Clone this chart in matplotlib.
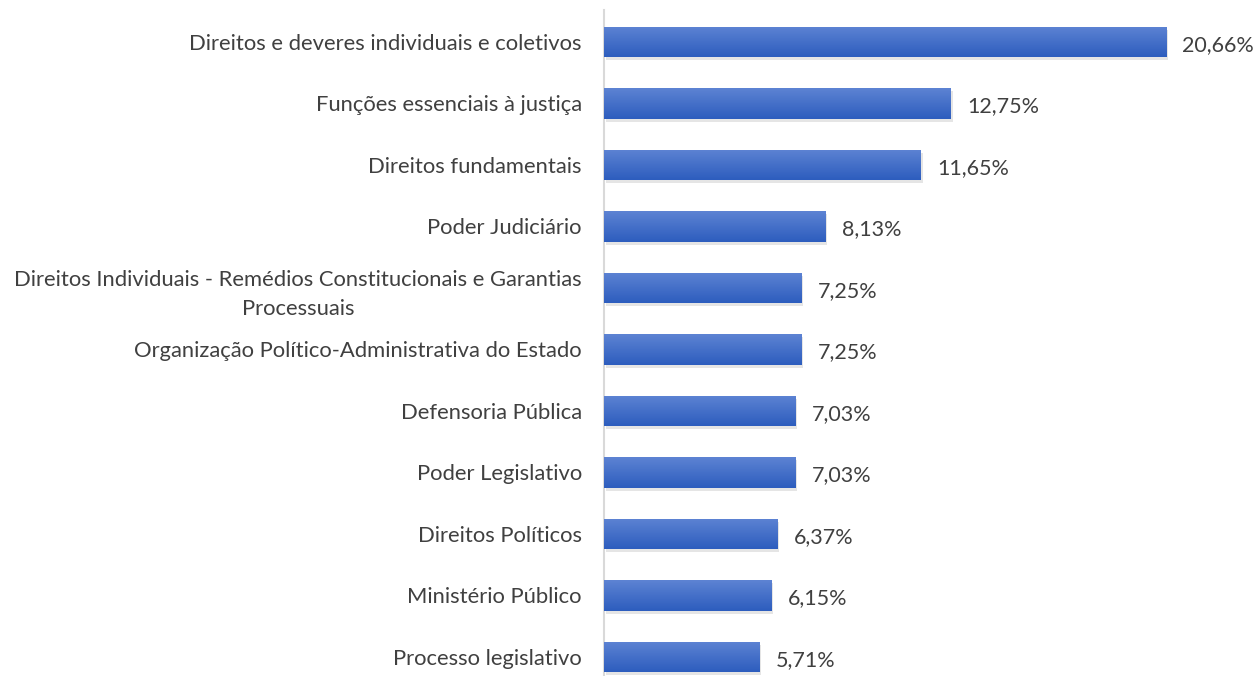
import matplotlib.pyplot as plt
import numpy as np
from matplotlib.colors import LinearSegmentedColormap

categories = [
    "Direitos e deveres individuais e coletivos",
    "Funções essenciais à justiça",
    "Direitos fundamentais",
    "Poder Judiciário",
    "Direitos Individuais - Remédios Constitucionais e Garantias\nProcessuais",
    "Organização Político-Administrativa do Estado",
    "Defensoria Pública",
    "Poder Legislativo",
    "Direitos Políticos",
    "Ministério Público",
    "Processo legislativo",
]
values = [20.66, 12.75, 11.65, 8.13, 7.25, 7.25, 7.03, 7.03, 6.37, 6.15, 5.71]
labels = ["20,66%", "12,75%", "11,65%", "8,13%", "7,25%", "7,25%",
          "7,03%", "7,03%", "6,37%", "6,15%", "5,71%"]

plt.rcParams['font.family'] = ['Lato', 'DejaVu Sans']
text_color = '#404040'

fig = plt.figure(figsize=(12.57, 6.76), dpi=100)
ax = fig.add_axes([604 / 1257, 0, 1 - 604 / 1257, 666 / 676])

y = np.arange(len(values))
bh = 0.49

# soft shadow under bars
ax.barh(y + 0.05, values, height=bh, left=0.06, color='#000000', alpha=0.10, zorder=1)
bars = ax.barh(y, values, height=bh, color='#4472C4', zorder=2)

cmap = LinearSegmentedColormap.from_list('grad', ['#5d83d3', '#2d5dbe'])
grad = np.linspace(0, 1, 64).reshape(-1, 1)
for b in bars:
    x0, y0 = b.get_x(), b.get_y()
    w, h = b.get_width(), b.get_height()
    im = ax.imshow(grad, cmap=cmap, aspect='auto', origin='upper',
                   extent=[x0, x0 + w, y0 + h, y0], zorder=3)
    im.set_clip_path(b)

for yi, v, lab in zip(y, values, labels):
    ax.text(v + 0.6, yi + 0.05, lab, va='center', ha='left', fontsize=15.5, color=text_color)

ax.set_xlim(0, 24)
ax.set_ylim(10.31, -0.52)
ax.set_yticks(y)
ax.set_yticklabels(categories, fontsize=15.8, color=text_color,
                   multialignment='center', linespacing=1.55)
ax.tick_params(axis='y', length=0, pad=16)
ax.set_xticks([])
for s in ['top', 'right', 'bottom']:
    ax.spines[s].set_visible(False)
ax.spines['left'].set_color('#d9d9d9')
ax.spines['left'].set_linewidth(1.5)

fig.savefig('out.png', dpi=100)
